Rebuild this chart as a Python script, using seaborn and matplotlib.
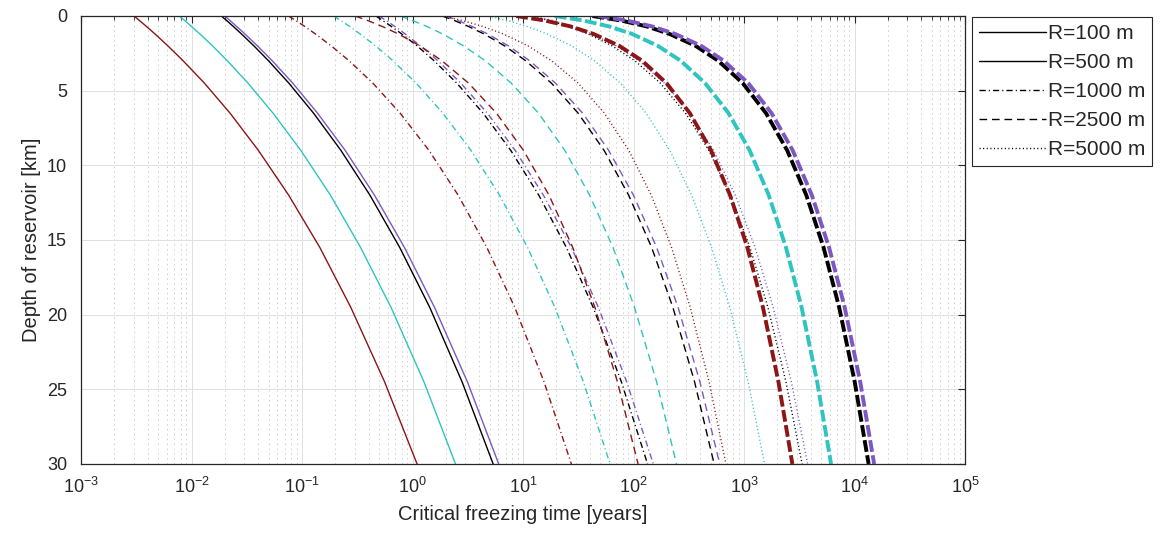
import matplotlib
matplotlib.use('Agg')
import matplotlib.pyplot as plt
from matplotlib.lines import Line2D
from matplotlib.ticker import LogLocator, NullFormatter, FixedLocator
import seaborn as sns

# depth of reservoir [km]
depth_km = [0, 0.3, 0.7, 1.2, 2, 3, 4.5, 6.5, 9, 12, 15.5, 19.5, 24.5, 30]

# critical freezing time [years]
red_a = [0.00302, 0.00338, 0.00391, 0.00467, 0.00611, 0.00840, 0.0131, 0.0223, 0.0403, 0.0758, 0.145, 0.276, 0.559, 1.10]
red_b = [0.0755, 0.0876, 0.106, 0.132, 0.184, 0.267, 0.438, 0.772, 1.41, 2.59, 4.71, 8.41, 15.5, 27.4]
red_c = [0.302, 0.392, 0.533, 0.744, 1.17, 1.85, 3.22, 5.74, 10.1, 17.2, 28.2, 44.7, 71.6, 110]
red_d = [1.89, 2.83, 4.34, 6.62, 11.1, 18.2, 31.6, 54.5, 90.7, 145, 221, 326, 483, 686]
red_e = [8.68, 15.7, 27.0, 43.4, 74.3, 120, 199, 323, 503, 748, 1073, 1483, 2050, 2740]

cyan_a = [0.00776, 0.00867, 0.00999, 0.0119, 0.0155, 0.0211, 0.0325, 0.0546, 0.0976, 0.181, 0.339, 0.638, 1.27, 2.45]
cyan_b = [0.194, 0.224, 0.270, 0.335, 0.463, 0.666, 1.08, 1.88, 3.38, 6.13, 11.0, 19.4, 35.2, 61.4]
cyan_c = [0.776, 1.00, 1.35, 1.87, 2.90, 4.56, 7.83, 13.8, 23.9, 40.1, 65.2, 102, 162, 245]
cyan_d = [4.85, 7.20, 10.9, 16.5, 27.5, 44.4, 76.1, 130, 213, 336, 509, 743, 1090, 1535]
cyan_e = [19.4, 35.2, 60.3, 97.0, 166, 268, 445, 723, 1125, 1675, 2398, 3318, 4593, 6138]

black_a = [0.0186, 0.0208, 0.0239, 0.0283, 0.0367, 0.0498, 0.0761, 0.127, 0.225, 0.412, 0.766, 1.43, 2.81, 5.37]
black_b = [0.466, 0.537, 0.644, 0.798, 1.10, 1.57, 2.52, 4.35, 7.75, 13.9, 24.7, 43.1, 77.7, 134]
black_c = [1.86, 2.39, 3.21, 4.43, 6.82, 10.6, 18.1, 31.5, 54.2, 90.4, 146, 227, 357, 537]
black_d = [11.6, 17.2, 25.9, 38.9, 64.1, 103, 175, 295, 481, 752, 1133, 1645, 2397, 3357]
black_e = [42.5, 77.0, 132, 212, 365, 585, 975, 1580, 2460, 3665, 5248, 7260, 10045, 13425]

purple_a = [0.0200, 0.0223, 0.0256, 0.0304, 0.0395, 0.0538, 0.0825, 0.138, 0.246, 0.453, 0.846, 1.58, 3.14, 6.03]
purple_b = [0.499, 0.576, 0.692, 0.859, 1.18, 1.70, 2.74, 4.75, 8.50, 15.3, 27.4, 48.0, 86.8, 151]
purple_c = [2.00, 2.57, 3.46, 4.78, 7.39, 11.5, 19.7, 34.6, 59.6, 99.9, 162, 253, 399, 603]
purple_d = [12.5, 18.5, 27.9, 42.0, 69.6, 112, 191, 324, 531, 834, 1260, 1835, 2682, 3767]
purple_e = [47.7, 86.4, 148, 238, 410, 656, 1094, 1773, 2760, 4113, 5889, 8145, 11270, 15063]

legend_labels = ['R=100 m', 'R=500 m', 'R=1000 m', 'R=2500 m', 'R=5000 m']
x_ticks = [1e-3, 1e-2, 1e-1, 1e0, 1e1, 1e2, 1e3, 1e4, 1e5]
y_ticks = [0, 5, 10, 15, 20, 25, 30]

c_red = '#8c1515'
c_cyan = '#2ec4c0'
c_black = '#000000'
c_purple = '#7e57c2'

solid = '-'
dashdot = (0, (4.5, 2.2, 0.8, 2.2))
dashed = (0, (5.5, 3.5))
dotted = (0, (0.8, 1.8))
thick = (0, (8.5, 2.5))

sns.set_theme(style='white')
plt.rcParams['font.family'] = ['Liberation Sans', 'DejaVu Sans']
plt.rcParams['mathtext.default'] = 'regular'
plt.rcParams['lines.scale_dashes'] = False

fig = plt.figure(figsize=(11.6, 5.47), dpi=100)
ax = fig.add_axes([81 / 1160, 1 - 464 / 547, (965 - 81) / 1160, (464 - 16) / 547])

curves = [
    (red_a, c_red, solid, 1.0), (cyan_a, c_cyan, solid, 1.0),
    (black_a, c_black, solid, 1.0), (purple_a, c_purple, solid, 1.0),
    (red_b, c_red, dashdot, 1.0), (cyan_b, c_cyan, dashdot, 1.0),
    (black_b, c_black, dashdot, 1.0), (purple_b, c_purple, dashdot, 1.0),
    (red_c, c_red, dashed, 1.0), (cyan_c, c_cyan, dashed, 1.0),
    (black_c, c_black, dashed, 1.0), (purple_c, c_purple, dashed, 1.0),
    (red_d, c_red, dotted, 1.0), (cyan_d, c_cyan, dotted, 1.0),
    (black_d, c_black, dotted, 1.0), (purple_d, c_purple, dotted, 1.0),
    (red_e, c_red, thick, 2.8), (cyan_e, c_cyan, thick, 2.8),
    (black_e, c_black, thick, 2.8), (purple_e, c_purple, thick, 2.8),
]
for vals, col, ls, lw in curves:
    sns.lineplot(ax=ax, x=vals, y=depth_km, sort=False, estimator=None,
                 color=col, linewidth=lw, linestyle=ls)

ax.set_xscale('log')
ax.set_xlim(1e-3, 1e5)
ax.set_ylim(30, 0)
ax.xaxis.set_major_locator(FixedLocator(x_ticks))
ax.xaxis.set_minor_locator(LogLocator(base=10, subs=range(2, 10), numticks=100))
ax.xaxis.set_minor_formatter(NullFormatter())
ax.set_yticks(y_ticks)

ax.grid(which='major', color='#e0e0e0', linewidth=0.7, linestyle='-')
ax.grid(which='minor', axis='x', color='#c4c4c4', linewidth=0.6, linestyle=(0, (1, 2.5)))
ax.set_axisbelow(True)

ax.tick_params(which='both', direction='in', top=True, right=True, colors='#262626',
               labelcolor='#262626', labelsize=13)
ax.tick_params(axis='x', which='major', pad=9)
ax.tick_params(axis='y', which='major', pad=10)
ax.tick_params(which='major', length=5, width=0.8)
ax.tick_params(which='minor', length=3, width=0.6)
for s in ax.spines.values():
    s.set_color('#262626')
    s.set_linewidth(0.9)

ax.set_xlabel('Critical freezing time [years]', fontsize=14.5, color='#262626', labelpad=6)
ax.set_ylabel('Depth of reservoir [km]', fontsize=14.5, color='#262626', labelpad=4)

handles = [Line2D([], [], color='black', lw=1.0, linestyle=s) for s in [solid, solid, dashdot, dashed, dotted]]
leg = fig.legend(handles, legend_labels, loc='upper left', bbox_to_anchor=(972 / 1160, 1 - 17 / 547),
                 bbox_transform=fig.transFigure, borderaxespad=0, fancybox=False, framealpha=1,
                 edgecolor='#262626', fontsize=15, handlelength=3.2, handletextpad=0.12,
                 labelspacing=0.48, borderpad=0.33)
leg.get_frame().set_linewidth(0.8)

fig.savefig('out.png', dpi=100)
